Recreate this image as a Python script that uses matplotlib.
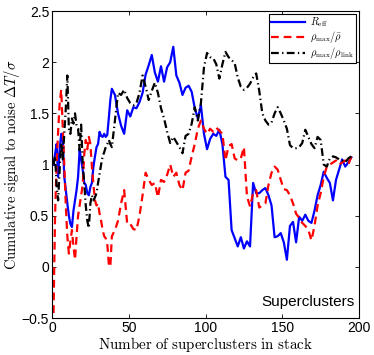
import matplotlib
matplotlib.use("Agg")
import matplotlib.pyplot as plt

plt.rcParams['mathtext.fontset'] = 'cm'
plt.rcParams['font.family'] = ['Liberation Sans', 'DejaVu Sans']

x_values = list(range(1, 40)) + list(range(41, 196, 2))

r_eff = [
    1.0, 1.1, 1.2, 0.88, 1.15, 1.3, 1.25, 0.88, 0.75, 0.62,
    0.5, 0.42, 0.39, 0.55, 0.65, 0.75, 0.88, 1.14, 1.05, 0.95,
    0.82, 0.8, 0.72, 0.7, 0.78, 0.82, 0.98, 1.08, 1.17, 1.2,
    1.32, 1.28, 1.27, 1.3, 1.27, 1.29, 1.45, 1.63, 1.74,
    1.68, 1.5, 1.38, 1.3, 1.53, 1.47, 1.56, 1.55, 1.61, 1.70,
    1.88, 1.97, 2.07, 1.9, 1.81, 1.96, 1.81, 1.95, 2.0, 2.15,
    1.87, 1.8, 1.68, 1.75, 1.77, 1.71, 1.55, 1.45, 1.58, 1.3,
    1.15, 1.25, 1.3, 1.28, 1.34, 1.2, 0.88, 0.85, 0.36, 0.28,
    0.2, 0.29, 0.18, 0.25, 0.2, 0.82, 0.72, 0.72, 0.75, 0.77,
    0.7, 0.6, 0.29, 0.3, 0.33, 0.24, 0.07, 0.4, 0.44, 0.24,
    0.49, 0.45, 0.51, 0.45, 0.43, 0.55, 0.7, 0.8, 0.93, 0.87,
    0.82, 0.65, 0.85, 0.95, 1.05, 0.98, 1.02, 1.07,
]

rho_bar = [
    -0.45, 0.5, 1.0, 1.32, 1.6, 1.73, 1.37, 1.0, 0.6, 0.3,
    0.13, 0.25, 0.36, 0.2, 0.07, 0.3, 0.5, 0.6, 0.7, 0.8,
    1.1, 1.24, 1.15, 1.27, 1.2, 0.98, 0.8, 0.65, 0.6, 0.62,
    0.52, 0.45, 0.36, 0.3, 0.28, 0.23, 0.03, 0.0, 0.3,
    0.36, 0.45, 0.62, 0.75, 0.42, 0.42, 0.37, 0.36, 0.5, 0.7,
    0.92, 0.85, 0.8, 0.82, 0.68, 0.85, 0.83, 0.9, 1.0, 0.88,
    0.92, 0.8, 0.75, 0.92, 0.94, 1.08, 1.2, 1.35, 1.43, 1.35,
    1.3, 1.35, 1.32, 1.36, 1.33, 1.3, 1.04, 1.18, 1.2, 1.06,
    1.04, 1.06, 1.17, 0.69, 0.59, 0.72, 0.75, 0.58, 0.6, 0.62,
    0.8, 0.92, 0.98, 0.95, 0.85, 0.76, 0.75, 0.7, 0.62, 0.52,
    0.48, 0.43, 0.4, 0.36, 0.26, 0.4, 0.6, 0.72, 0.88, 0.98,
    1.0, 1.02, 1.04, 1.0, 1.02, 1.04, 1.0, 1.08,
]

rho_link = [
    1.0, 1.08, 0.8, 0.65, 0.95, 1.21, 1.05, 1.3, 1.55, 1.87,
    1.35, 1.3, 1.45, 1.4, 1.5, 1.38, 1.35, 1.14, 1.39, 1.01,
    0.82, 0.6, 0.45, 0.38, 0.62, 0.7, 0.65, 0.68, 0.72, 0.82,
    0.91, 1.0, 1.08, 1.12, 1.17, 1.2, 1.24, 1.2, 1.17,
    1.43, 1.7, 1.68, 1.73, 1.65, 1.6, 1.58, 1.6, 1.7, 1.87,
    1.76, 1.63, 1.72, 1.8, 1.7, 1.55, 1.45, 1.32, 1.21, 1.27,
    1.22, 1.17, 1.11, 1.28, 1.3, 1.4, 1.56, 1.43, 1.6, 1.95,
    2.09, 2.05, 2.04, 1.98, 1.84, 1.98, 2.1, 2.05, 2.02, 1.99,
    1.85, 1.76, 1.73, 1.75, 1.79, 1.85, 1.89, 1.72, 1.5, 1.43,
    1.39, 1.41, 1.5, 1.56, 1.5, 1.43, 1.35, 1.19, 1.16, 1.16,
    1.17, 1.21, 1.34, 1.27, 1.2, 1.16, 1.27, 1.24, 1.0, 0.98,
    1.06, 1.08, 1.07, 1.05, 1.04, 1.02, 1.06, 1.08,
]

labels = [r'$R_{\rm eff}$', r'$\rho_{\rm max}/\bar{\rho}$', r'$\rho_{\rm max}/\rho_{\rm link}$']
x_ticks = [0, 50, 100, 150, 200]
y_ticks = [-0.5, 0, 0.5, 1, 1.5, 2, 2.5]
y_tick_labels = ['\u22120.5', '0', '0.5', '1', '1.5', '2', '2.5']

fig = plt.figure(figsize=(3.74, 3.55), dpi=100)
ax = fig.add_axes([0.139, 0.104, 0.821, 0.865])

ax.plot(x_values, r_eff, color='#0000ff', lw=1.6, ls='-', label=labels[0])
ax.plot(x_values, rho_bar, color='#ff0000', lw=1.6, ls=(0, (3.5, 2.2)), label=labels[1])
ax.plot(x_values, rho_link, color='black', lw=1.6, ls=(0, (3.5, 1.5, 0.6, 1.5)), label=labels[2])

ax.set_xlim(0, 200)
ax.set_ylim(-0.5, 2.5)
ax.set_xticks(x_ticks)
ax.set_xticklabels([str(t) for t in x_ticks])
ax.set_yticks(y_ticks)
ax.set_yticklabels(y_tick_labels)
ax.tick_params(direction='in', top=True, right=True, labelsize=10, length=3, width=0.6, pad=2)
for s in ax.spines.values():
    s.set_linewidth(0.8)

ax.set_xlabel(r'$\mathrm{Number\ of\ superclusters\ in\ stack}$', fontsize=10.8, labelpad=0)
ax.set_ylabel(r'$\mathrm{Cumulative\ signal\ to\ noise}\ \Delta T/\sigma$', fontsize=10.5, labelpad=0)

leg = ax.legend(loc='upper right', fontsize=7.5, frameon=True, fancybox=False,
                edgecolor='black', framealpha=1, borderpad=0.15, labelspacing=0.0,
                handlelength=3.3, handletextpad=0.5, borderaxespad=0.3)
leg.get_frame().set_linewidth(0.8)

ax.text(0.985, 0.028, 'Superclusters', transform=ax.transAxes, ha='right', va='bottom', fontsize=11)

fig.savefig('out.png', dpi=100)
